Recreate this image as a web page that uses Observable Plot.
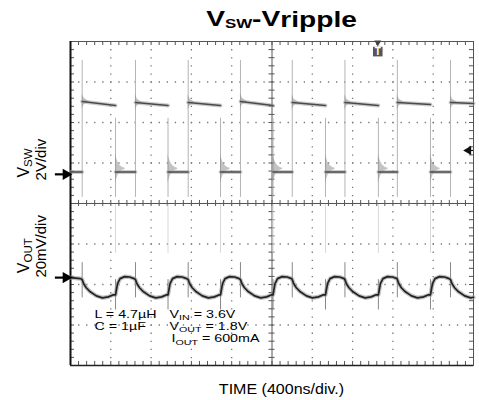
<!DOCTYPE html>
<html><head><meta charset="utf-8">
<script src="https://cdn.jsdelivr.net/npm/d3@7"></script>
<script src="https://cdn.jsdelivr.net/npm/@observablehq/plot@0.6"></script>
<style>
html,body{margin:0;padding:0;background:#fff;}
#chart svg{display:block;}
</style></head><body><div id="chart"></div>
<script>
// ---------------- data ----------------
const titleText = "V_{SW}-V_{ripple}";
const xLabel = "TIME (400ns/div.)";
const channelNames = ["V_{SW}", "V_{OUT}"];
const channelScales = ["2V/div", "20mV/div"];
const conditionLabels = ["L = 4.7µH", "C = 1µF", "V_{IN} = 3.6V", "V_{OUT} = 1.8V", "I_{OUT} = 600mA"];

// time axis: 10 divisions x 400 ns ; vertical: 8 divisions
const timeDomain = [0, 4000];
const divDomain = [-4, 4];

// channel reference markers (divisions from screen centre)
const channelRefDiv = [0.72, -1.83];
const channelPerDiv = [2, 20]; // V/div , mV/div

// switching edges (ns)
const riseTimes = [116, 645, 1168, 1687, 2201, 2724, 3244, 3772];
const fallTimes = [447, 968, 1489, 2010, 2531, 3056, 3573];

// VSW levels (V)
const vswHighStart = [3.6, 3.55, 3.55, 3.6, 3.55, 3.55, 3.55, 3.55];
const vswHighEnd   = [3.4, 3.4, 3.4, 3.4, 3.4, 3.4, 3.45, 3.5];
const vswLow = [0.12, 0.12, 0.12, 0.12, 0.12, 0.12, 0.12, 0.12];
// ringing envelopes after edges: [ns after edge, half width V]
const vswRiseRing = [[0, 0.38], [8, 0.28], [20, 0.16], [40, 0.08], [60, 0.04]];
const vswFallRing = [[0, 0.7], [10, 0.52], [25, 0.32], [45, 0.17], [70, 0.07], [95, 0.03]];
// fast edge spikes (V)
const vswRiseSpike = [-1.14, 5.63];
const vswFallSpike = [-1.14, 2.77];

// VOUT ripple shape (mV) : after rising edge / after falling edge
const voutHighOff = [0, 15, 40, 80, 140, 200, 260, 310];
const voutHighMv  = [-1, -3, -5, -7, -9, -10, -9.5, -8.5];
const voutLowOff  = [0, 20, 45, 90, 140, 185];
const voutLowMv   = [-8.5, -3, -0.5, 0.5, 0.3, -0.5];
const voutRiseSpike = [-10, 7.4];
const voutFallSpike = [-16, -1];
const voutFallFaint = [12, 36];

// trigger
const triggerTime = 3050;
const triggerLevelDiv = 1.31;

// ---------------- derived tables ----------------
const ySw = v => channelRefDiv[0] + v / channelPerDiv[0];
const yOut = mv => channelRefDiv[1] + mv / channelPerDiv[1];

const vswRows = [];
let sid = 0;
vswRows.push({t: 0, y: ySw(vswLow[0]), id: sid}, {t: riseTimes[0], y: ySw(vswLow[0]), id: sid}); sid++;
riseTimes.forEach((r, i) => {
  const f = i < fallTimes.length ? fallTimes[i] : 4000;
  vswRows.push({t: r, y: ySw(vswHighStart[i]), id: sid}, {t: f, y: ySw(vswHighEnd[i]), id: sid}); sid++;
  if (i < fallTimes.length) {
    vswRows.push({t: f, y: ySw(vswLow[i]), id: sid}, {t: riseTimes[i + 1], y: ySw(vswLow[i]), id: sid}); sid++;
  }
});

const ringRows = [];
riseTimes.forEach((r, i) => {
  vswRiseRing.forEach(([o, h]) => ringRows.push({t: r + o, lo: ySw(vswHighStart[i] - h), hi: ySw(vswHighStart[i] + h), id: "r" + i}));
});
fallTimes.forEach((f, i) => {
  vswFallRing.forEach(([o, h]) => ringRows.push({t: f + o, lo: ySw(vswLow[i] + 0.15 - h), hi: ySw(vswLow[i] + 0.15 + h), id: "f" + i}));
});

const voutRows = [{t: 0, mv: 0}, {t: 100, mv: -0.5}];
riseTimes.forEach((r, i) => {
  const f = i < fallTimes.length ? fallTimes[i] : 4000;
  voutHighOff.forEach((o, j) => { if (r + o < f) voutRows.push({t: r + o, mv: voutHighMv[j]}); });
  if (i < fallTimes.length) {
    voutLowOff.forEach((o, j) => { if (f + o < riseTimes[i + 1]) voutRows.push({t: f + o, mv: voutLowMv[j]}); });
  }
});
voutRows.push({t: 4000, mv: -9.7});

const spikeRows = [
  ...riseTimes.map(t => ({t, y1: ySw(vswRiseSpike[0]), y2: ySw(vswRiseSpike[1]), c: "#b4b4b4"})),
  ...fallTimes.map(t => ({t, y1: ySw(vswFallSpike[0]), y2: ySw(vswFallSpike[1]), c: "#b4b4b4"})),
  ...riseTimes.map(t => ({t, y1: yOut(voutRiseSpike[0]), y2: yOut(voutRiseSpike[1]), c: "#888"})),
  ...fallTimes.map(t => ({t, y1: yOut(voutFallSpike[0]), y2: yOut(voutFallSpike[1]), c: "#888"})),
  ...fallTimes.map(t => ({t, y1: yOut(voutFallFaint[0]), y2: yOut(voutFallFaint[1]), c: "#d8d8d8"}))
];

const majorX = d3.range(400, 4000, 400).filter(d => d !== 2000);
const majorY = [-3, -2, -1, 1, 2, 3];
const minorX = d3.range(0, 4000.1, 80);
const minorY = d3.range(-4, 4.001, 0.2);

// ---------------- plot ----------------
const plot = Plot.plot({
  width: 479, height: 400,
  marginLeft: 70, marginRight: 6, marginTop: 41, marginBottom: 35,
  style: {fontFamily: "'Liberation Sans', Arial, Helvetica, sans-serif", background: "#fff", color: "#000", overflow: "visible"},
  x: {domain: timeDomain, axis: null},
  y: {domain: divDomain, axis: null},
  marks: [
    // dotted graticule
    Plot.ruleX(majorX, {stroke: "#777", strokeWidth: 1.3, strokeDasharray: "1.3,6.8"}),
    Plot.ruleY(majorY, {stroke: "#777", strokeWidth: 1.3, strokeDasharray: "1.3,6.76"}),
    // centre cross with minor ticks
    Plot.ruleX([2000], {stroke: "#555"}),
    Plot.ruleY([0], {stroke: "#555"}),
    Plot.ruleY(minorY, {y: d => d, x1: 1970, x2: 2030, stroke: "#555"}),
    Plot.ruleX(minorX, {x: d => d, y1: -0.075, y2: 0.075, stroke: "#555"}),
    // border ticks
    Plot.ruleX(minorX, {x: d => d, y1: 4, y2: 3.9, stroke: "#555"}),
    Plot.ruleX(minorX, {x: d => d, y1: -4, y2: -3.9, stroke: "#555"}),
    Plot.ruleY(minorY, {y: d => d, x1: 0, x2: 40, stroke: "#555"}),
    Plot.ruleY(minorY, {y: d => d, x1: 3960, x2: 4000, stroke: "#555"}),
    Plot.frame({stroke: "#555"}),
    Plot.ruleX([0], {stroke: "#111", strokeWidth: 2}),
    Plot.ruleY([-4], {stroke: "#222", strokeWidth: 1.4}),
    // fast edges
    Plot.ruleX(spikeRows, {x: "t", y1: "y1", y2: "y2", stroke: "c", strokeWidth: 1}),
    // VSW trace
    Plot.areaY(ringRows, {x: "t", y1: "lo", y2: "hi", z: "id", fill: "#888", fillOpacity: 0.5, curve: "linear"}),
    Plot.line(vswRows, {x: "t", y: "y", z: "id", stroke: "#aaa", strokeWidth: 4, strokeOpacity: 0.6}),
    Plot.line(vswRows, {x: "t", y: "y", z: "id", stroke: "#4a4a4a", strokeWidth: 1.5}),
    // VOUT trace
    Plot.line(voutRows, {x: "t", y: d => yOut(d.mv), stroke: "#999", strokeWidth: 4.2, strokeOpacity: 0.6}),
    Plot.line(voutRows, {x: "t", y: d => yOut(d.mv), stroke: "#222", strokeWidth: 1.7}),
    // channel reference arrows
    Plot.ruleY(channelRefDiv, {x1: -150, x2: -40, stroke: "#000", strokeWidth: 2.2}),
    Plot.dot(channelRefDiv, {x: -45, y: d => d, symbol: "triangle", rotate: 90, r: 4.2, fill: "#000", stroke: "none"}),
    // trigger markers
    Plot.dot([triggerTime], {x: d => d, y: 4, dy: 1, symbol: "triangle", rotate: 180, r: 2.6, fill: "#444", stroke: "none"}),
    Plot.dot([triggerTime], {x: d => d, y: 3.75, symbol: "square", r: 5.4, fill: "#555", stroke: "none"}),
    Plot.text(["T"], {x: triggerTime, y: 3.75, fill: "#fff", fontWeight: "bold", fontSize: 10}),
    Plot.ruleY([triggerLevelDiv], {x1: 3930, x2: 4000, stroke: "#111", strokeWidth: 1.2}),
    Plot.dot([triggerLevelDiv], {x: 3950, y: d => d, symbol: "triangle", rotate: -90, r: 3.4, fill: "#111", stroke: "none"}),
    // texts
    Plot.text([titleText], {frameAnchor: "top", dx: 9.5, dy: -16, lineAnchor: "bottom", fontSize: 22, fontWeight: "bold"}),
    Plot.text([xLabel], {frameAnchor: "bottom", dx: 9.5, dy: 28, lineAnchor: "bottom", fontSize: 15}),
    Plot.text(channelNames, {frameAnchor: "left", y: (d, i) => [0.64, -1.72][i], dx: -47, rotate: -90, fontSize: 16}),
    Plot.text(channelScales, {frameAnchor: "left", y: (d, i) => [0.57, -1.83][i], dx: -29, rotate: -90, fontSize: 15}),
    Plot.text(conditionLabels, {
      x: (d, i) => [238, 238, 983, 983, 1002][i],
      y: (d, i) => [-2.82, -3.12, -2.82, -3.12, -3.42][i],
      textAnchor: "start", lineAnchor: "bottom", fontSize: 10.5
    })
  ]
});

// ---------------- rich text (subscripts) & horizontal stretch ----------------
const richSpecs = new Map([
  [titleText, {size: 22, subs: [{r: 0.6, dy: 2}, {r: 1, dy: 1}], sx: 1.28}],
  [xLabel, {size: 15, subs: [], sx: 1.07}],
  [channelNames[0], {size: 16, subs: [{r: 0.72, dy: 3}], sx: 1}],
  [channelNames[1], {size: 16, subs: [{r: 0.72, dy: 3}], sx: 1}],
  [conditionLabels[0], {size: 10.5, subs: [], sx: 1.36}],
  [conditionLabels[1], {size: 10.5, subs: [], sx: 1.36}],
  [conditionLabels[2], {size: 10.5, subs: [{r: 0.75, dy: 2.5}], sx: 1.36}],
  [conditionLabels[3], {size: 10.5, subs: [{r: 0.75, dy: 2.5}], sx: 1.36}],
  [conditionLabels[4], {size: 10.5, subs: [{r: 0.75, dy: 2.5}], sx: 1.36}]
]);
const NS = "http://www.w3.org/2000/svg";
function richText(el, str, spec) {
  const parts = str.split(/(_\{[^}]*\})/).filter(Boolean);
  if (parts.length < 2) return;
  el.textContent = "";
  let k = 0, cur = 0;
  for (const p of parts) {
    const ts = document.createElementNS(NS, "tspan");
    if (p.startsWith("_{")) {
      const s = spec.subs[Math.min(k++, spec.subs.length - 1)];
      ts.textContent = p.slice(2, -1);
      ts.setAttribute("font-size", spec.size * s.r);
      ts.setAttribute("dy", s.dy - cur); cur = s.dy;
    } else {
      ts.textContent = p;
      if (cur) { ts.setAttribute("dy", -cur); cur = 0; }
    }
    el.appendChild(ts);
  }
}
function stretchX(el, sx) {
  if (sx === 1) return;
  const t = el.getAttribute("transform") || "";
  const x = el.getAttribute("x"), y = el.getAttribute("y");
  let pre = t;
  if (x !== null || y !== null) {
    pre += ` translate(${x || 0},${y || 0})`;
    el.removeAttribute("x"); el.removeAttribute("y");
  }
  el.setAttribute("transform", `${pre} scale(${sx},1)`);
}
d3.select(plot).selectAll("text").each(function () {
  const str = this.textContent;
  const spec = richSpecs.get(str);
  if (!spec) return;
  richText(this, str, spec);
  stretchX(this, spec.sx);
});

document.getElementById("chart").append(plot);
</script>
</body></html>
